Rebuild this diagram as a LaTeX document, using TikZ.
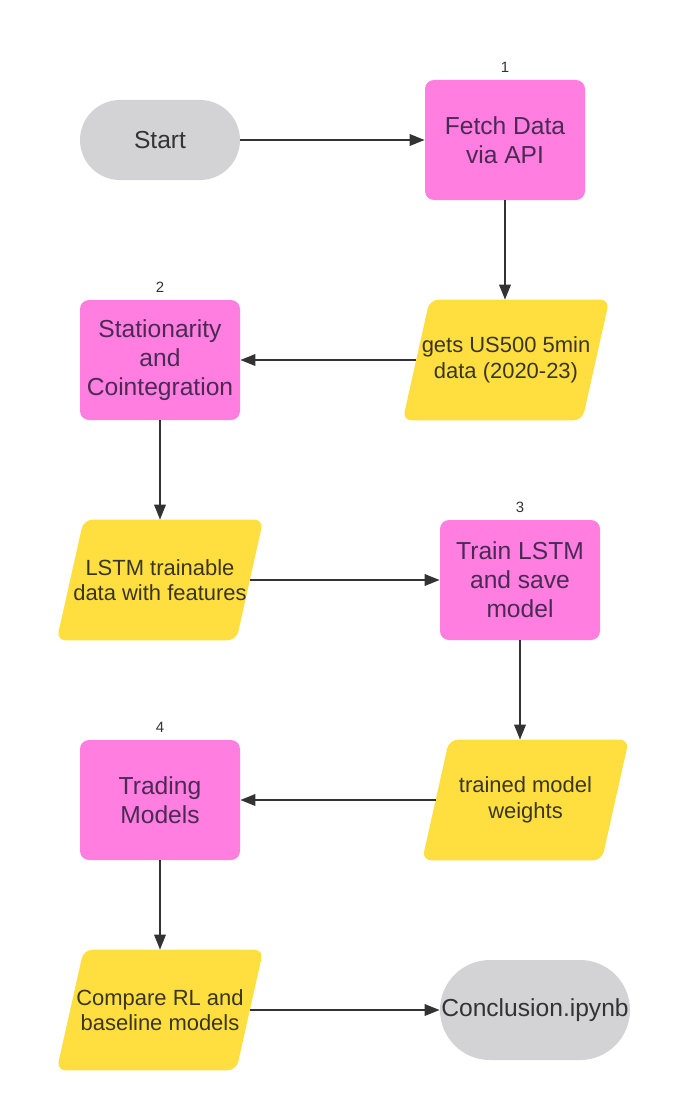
\documentclass[tikz,border=0pt]{standalone}
\usepackage{fontspec}
\setmainfont{Liberation Sans}
\usepackage{tikz}
\usetikzlibrary{arrows.meta,positioning,backgrounds}

\definecolor{procpink}{HTML}{FF7EDF}
\definecolor{datayellow}{HTML}{FFDF40}
\definecolor{termgray}{HTML}{D3D3D6}
\definecolor{pinktext}{HTML}{4A2A55}
\definecolor{yellowtext}{HTML}{3A3522}
\definecolor{linegray}{HTML}{333333}

\tikzset{
  proc/.style={fill=procpink, text=pinktext, rounded corners=0.18cm,
    minimum width=3.2cm, minimum height=2.4cm, align=center,
    font=\fontsize{14}{16.5}\selectfont},
  iodata/.style={text=yellowtext, minimum width=3.58cm, minimum height=2.4cm,
    align=center, inner sep=0pt, font=\fontsize{12.5}{14.5}\selectfont},
  slantfill/.style={fill=datayellow, rounded corners=0.18cm},
  term/.style={fill=termgray, text=linegray, rounded corners=#1,
    align=center, font=\fontsize{14}{16.5}\selectfont},
  numlbl/.style={text=linegray, font=\fontsize{8.5}{10}\selectfont, inner sep=1pt},
  flow/.style={draw=linegray, line width=1.1pt,
    -{Triangle[length=8.5pt,width=6.5pt]}}
}

\begin{document}
\begin{tikzpicture}
\useasboundingbox (0,0) rectangle (13.6,-22.2);

% terminals
\node[term=0.8cm, minimum width=3.2cm, minimum height=1.6cm] (start) at (3.2,-2.8) {Start};
\node[term=1cm, minimum width=3.8cm, minimum height=2cm, inner xsep=0pt] (concl) at (10.7,-20.2) {Conclusion.ipynb};

% process steps
\node[proc] (fetch) at (10.1,-2.8) {Fetch Data\\via API};
\node[proc] (stat) at (3.2,-7.2) {Stationarity\\and\\Cointegration};
\node[proc] (train) at (10.4,-11.6) {Train LSTM\\and save\\model};
\node[proc] (trading) at (3.2,-16.0) {Trading\\Models};

% step numbers
\node[numlbl, above=0.1cm of fetch] (num1) {1};
\node[numlbl, above=0.1cm of stat] (num2) {2};
\node[numlbl, above=0.1cm of train] (num3) {3};
\node[numlbl, above=0.1cm of trading] (num4) {4};

% data (text nodes, parallelograms go behind)
\node[iodata] (gets) at (10.12,-7.2) {gets US500 5min\\data (2020-23)};
\node[iodata] (lstm) at (3.2,-11.6) {LSTM trainable\\data with features};
\node[iodata] (weights) at (10.51,-16.0) {trained model\\weights};
\node[iodata] (compare) at (3.2,-20.2) {Compare RL and\\baseline models};

\begin{scope}[on background layer]
\foreach \n in {gets,lstm,weights,compare}
  \fill[slantfill] ([xshift=0.27cm]\n.north west) -- ([xshift=0.27cm]\n.north east)
    -- ([xshift=-0.27cm]\n.south east) -- ([xshift=-0.27cm]\n.south west) -- cycle;
\end{scope}

% connectors
\draw[flow] (start) -- (fetch);
\draw[flow] (fetch.south) -- (fetch.south |- gets.north);
\draw[flow] (gets) -- (stat);
\draw[flow] (stat) -- (lstm);
\draw[flow] (lstm) -- (train);
\draw[flow] (train.south) -- (train.south |- weights.north);
\draw[flow] (weights) -- (trading);
\draw[flow] (trading) -- (compare);
\draw[flow] (compare) -- (concl);
\end{tikzpicture}
\end{document}
